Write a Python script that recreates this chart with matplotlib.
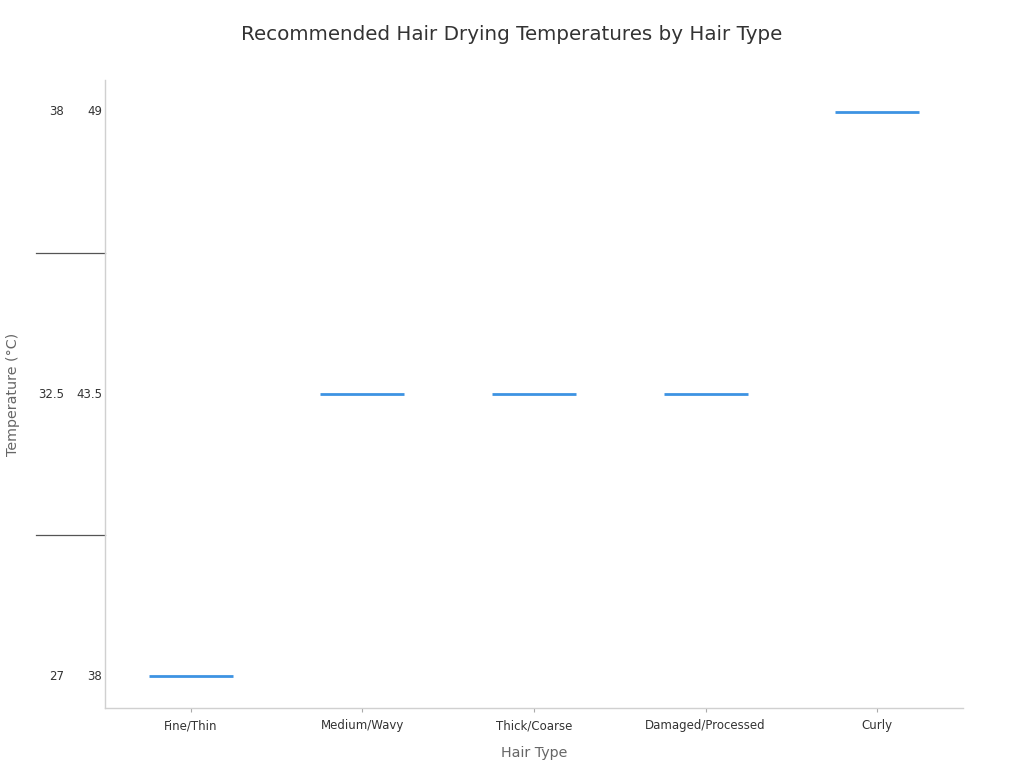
import numpy as np
import matplotlib
matplotlib.use('Agg')
import matplotlib.pyplot as plt

# recommended drying range per hair type (deg C)
hair_types = ['Fine/Thin', 'Medium/Wavy', 'Thick/Coarse', 'Damaged/Processed', 'Curly']
temp_min = [27, 32.5, 32.5, 32.5, 38]
temp_max = [38, 43.5, 43.5, 43.5, 49]

# y axis is categorical on the (min, max) pair
ranges = sorted(set(zip(temp_min, temp_max)))
range_labels_lo = [f'{lo:g}' for lo, hi in ranges]
range_labels_hi = [f'{hi:g}' for lo, hi in ranges]

fig = plt.figure(figsize=(10.24, 7.68), dpi=100)
ax = fig.add_axes([0.1025, 0.0781, 0.8379, 0.8177])

x = np.arange(len(hair_types))
y = [ranges.index(r) for r in zip(temp_min, temp_max)]
ax.hlines(y, x - 0.245, x + 0.245, color='#3d93e2', linewidth=2)

ax.set_xlim(-0.5, len(hair_types) - 0.5)
ax.set_ylim(-0.112, len(ranges) - 1 + 0.112)
ax.set_xticks(x)
ax.set_xticklabels(hair_types, fontsize=8.5, color='#333333')
ax.tick_params(axis='x', length=3, color='#aaaaaa', pad=5)
ax.set_yticks(range(len(ranges)))
ax.set_yticklabels([])
ax.tick_params(axis='y', length=0)

# two-level tick labels: min and max columns
tr = ax.get_yaxis_transform()
for i in range(len(ranges)):
    ax.text(-0.0478, i, range_labels_lo[i], transform=tr, ha='right', va='center',
            fontsize=8.5, color='#333333')
    ax.text(-0.0035, i, range_labels_hi[i], transform=tr, ha='right', va='center',
            fontsize=8.5, color='#333333')
# dividers between the range groups
for i in range(len(ranges) - 1):
    ax.plot([-0.0804, 0], [i + 0.5, i + 0.5], transform=tr, color='#555555',
            linewidth=0.9, clip_on=False)

for s in ['top', 'right']:
    ax.spines[s].set_visible(False)
for s in ['left', 'bottom']:
    ax.spines[s].set_color('#d0d0d0')
    ax.spines[s].set_linewidth(1)

ax.set_xlabel('Hair Type', fontsize=10.3, color='#666666', labelpad=10)
ax.set_ylabel('Temperature (°C)', fontsize=10.3, color='#666666')
ax.yaxis.set_label_coords(-0.099, 0.5)
fig.suptitle('Recommended Hair Drying Temperatures by Hair Type', fontsize=14.3,
             color='#333333', y=0.968)

fig.savefig('out.png', dpi=100)
